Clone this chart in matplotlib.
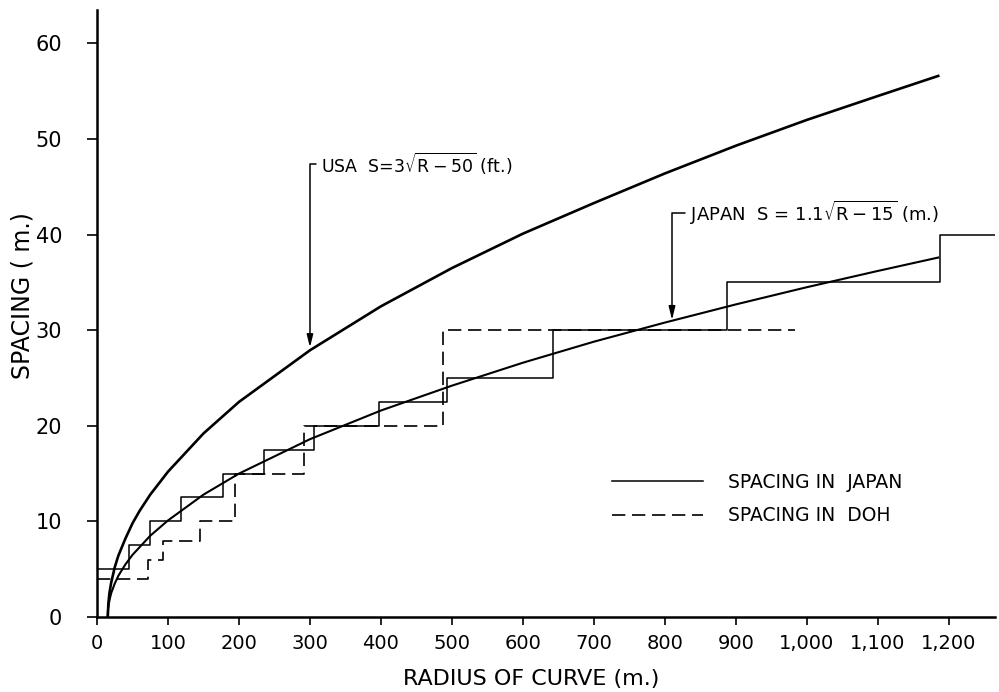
import matplotlib.pyplot as plt

# curves (radius m, spacing m)
usa_r = [15.2, 16, 17.5, 20, 25, 30, 40, 50, 60, 75, 100, 150, 200, 300, 400,
         500, 600, 700, 800, 900, 1000, 1100, 1185]
usa_s = [0, 1.4, 2.5, 3.6, 5.2, 6.4, 8.2, 9.8, 11.1, 12.8, 15.2, 19.2, 22.5, 27.9,
         32.5, 36.5, 40.1, 43.3, 46.4, 49.3, 52.0, 54.5, 56.6]

japan_r = [15, 15.5, 16.5, 18, 20, 25, 30, 40, 50, 75, 100, 150, 200, 300, 400,
           500, 600, 700, 800, 900, 1000, 1100, 1185]
japan_s = [0, 0.8, 1.3, 1.9, 2.5, 3.5, 4.3, 5.5, 6.5, 8.5, 10.1, 12.8, 15.0, 18.6,
           21.6, 24.2, 26.6, 28.8, 30.8, 32.7, 34.5, 36.2, 37.6]

# step rules
jp_step_r = [0, 45, 75, 118, 178, 235, 305, 397, 493, 643, 888, 1188, 1265]
jp_step_s = [5, 7.5, 10, 12.5, 15, 17.5, 20, 22.5, 25, 30, 35, 40, 40]

doh_step_r = [0, 72, 93, 145, 194, 292, 487, 983]
doh_step_s = [4, 6, 8, 10, 15, 20, 30, 30]

x_ticks = [0, 100, 200, 300, 400, 500, 600, 700, 800, 900, 1000, 1100, 1200]
x_labels = ['0', '100', '200', '300', '400', '500', '600', '700', '800', '900',
            '1,000', '1,100', '1,200']
y_ticks = [0, 10, 20, 30, 40, 50, 60]

plt.rcParams['font.family'] = 'DejaVu Sans'

fig = plt.figure(figsize=(9.99, 6.92), dpi=100)
ax = fig.add_axes([0.0971, 0.1084, 0.8989, 0.8772])

ax.plot(usa_r, usa_s, color='black', lw=1.9)
ax.plot(japan_r, japan_s, color='black', lw=1.5)
ax.step(jp_step_r, jp_step_s, where='post', color='black', lw=1.1,
        label='SPACING IN  JAPAN')
ax.step(doh_step_r, doh_step_s, where='post', color='black', lw=1.2,
        dashes=(8, 4), label='SPACING IN  DOH')

ax.set_xlim(0, 1265)
ax.set_ylim(0, 63.5)
ax.set_xticks(x_ticks)
ax.set_xticklabels(x_labels)
ax.set_yticks(y_ticks)

for s in ['top', 'right']:
    ax.spines[s].set_visible(False)
for s in ['left', 'bottom']:
    ax.spines[s].set_linewidth(1.8)

ax.tick_params(axis='x', direction='out', length=6, width=1.2, pad=6, labelsize=14)
ax.tick_params(axis='y', direction='out', length=7, width=1.2, pad=18, labelsize=15)

ax.set_xlabel('RADIUS OF CURVE (m.)', fontsize=16, labelpad=10)
ax.xaxis.set_label_coords(0.483, -0.085)
ax.set_ylabel('SPACING ( m.)', fontsize=17)
ax.yaxis.set_label_coords(-0.07, 0.53)

arrow = dict(arrowstyle='-|>,head_length=0.6,head_width=0.15', color='black',
             lw=1.1, shrinkA=2, shrinkB=0,
             connectionstyle='angle,angleA=0,angleB=90,rad=0')
ax.annotate('USA  S=3$\\sqrt{\\mathrm{R-50}}$ (ft.)', xy=(300, 28.2),
            xytext=(316, 47.4), fontsize=12.5, ha='left', va='center',
            arrowprops=arrow)
ax.annotate('JAPAN  S = 1.1$\\sqrt{\\mathrm{R-15}}$ (m.)', xy=(810, 31.1),
            xytext=(836, 42.3), fontsize=13, ha='left', va='center',
            arrowprops=arrow)

ax.legend(loc='upper left', bbox_to_anchor=(0.555, 0.265), frameon=False,
          fontsize=13.5, handlelength=4.85, handletextpad=1.3, labelspacing=0.76)

fig.savefig('out.png', dpi=100)
